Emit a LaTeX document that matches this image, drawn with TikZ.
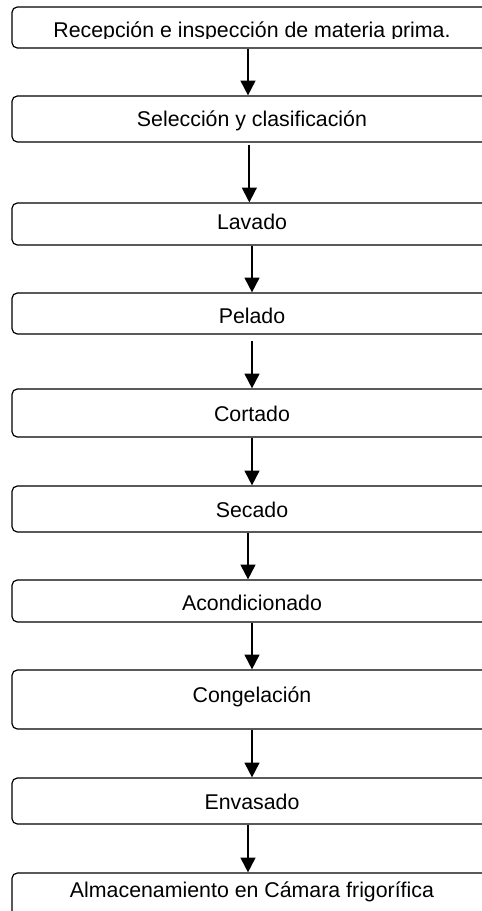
\documentclass[tikz,border=0pt]{standalone}
\usepackage{fontspec}
\setmainfont{Liberation Sans}
\usetikzlibrary{arrows.meta}
\tikzset{
  box/.style={draw, rounded corners=4pt, line width=0.9pt, minimum width=360pt, minimum height=#1*0.75pt, inner sep=0pt},
  lbl/.style={anchor=base, inner sep=0pt, font=\fontsize{16}{19}\selectfont},
  arr/.style={-{Triangle[width=11pt,length=11pt]}, line width=1.4pt}
}
\begin{document}
\begin{tikzpicture}[x=0.75pt,y=-0.75pt]
\path[use as bounding box] (0,0) rectangle (482,911);
\clip (0,0) rectangle (482,911);
% boxes
\node[box=41] (rec) at (252,27.5) {};
\node[box=46] (sel) at (252,119) {};
\node[box=42] (lav) at (252,224) {};
\node[box=41] (pel) at (252,313.5) {};
\node[box=48] (cor) at (252,413) {};
\node[box=46] (sec) at (252,509) {};
\node[box=42] (aco) at (252,601) {};
\node[box=59] (con) at (252,699.5) {};
\node[box=46] (env) at (252,801) {};
\node[box=48] (alm) at (252,897) {};
% texts
\begin{scope}
\clip (rec.north west) rectangle ([yshift=7.5pt]rec.south east);
\node[lbl] (trec) at (252,37.5) {Recepción e inspección de materia prima.};
\end{scope}
\node[lbl] (tsel) at (252,126) {Selección y clasificación};
\node[lbl] (tlav) at (252,229.5) {Lavado};
\begin{scope}
\clip (pel.north west) rectangle ([yshift=7.5pt]pel.south east);
\node[lbl] (tpel) at (252,323.5) {Pelado};
\end{scope}
\node[lbl] (tcor) at (252,421.5) {Cortado};
\node[lbl] (tsec) at (252,517.5) {Secado};
\begin{scope}
\clip (aco.north west) rectangle ([yshift=7.5pt]aco.south east);
\node[lbl] (taco) at (252,610.5) {Acondicionado};
\end{scope}
\node[lbl] (tcon) at (252,702) {Congelación};
\node[lbl] (tenv) at (252,809.5) {Envasado};
\node[lbl] (talm) at (252,897.5) {Almacenamiento en Cámara frigorífica};
% arrows
\draw[arr] ([xshift=-3pt]rec.south) -- ([xshift=-3pt]sel.north);
\draw[arr, shorten <=1.5pt] ([xshift=-2pt]sel.south) -- ([xshift=-2pt]lav.north);
\draw[arr] (lav.south) -- (pel.north);
\draw[arr, shorten <=5pt] (pel.south) -- (cor.north);
\draw[arr] (cor.south) -- (sec.north);
\draw[arr] ([xshift=-3pt]sec.south) -- ([xshift=-3pt]aco.north);
\draw[arr] (aco.south) -- (con.north);
\draw[arr] (con.south) -- (env.north);
\draw[arr] ([xshift=-3pt]env.south) -- ([xshift=-3pt]alm.north);
\end{tikzpicture}
\end{document}
